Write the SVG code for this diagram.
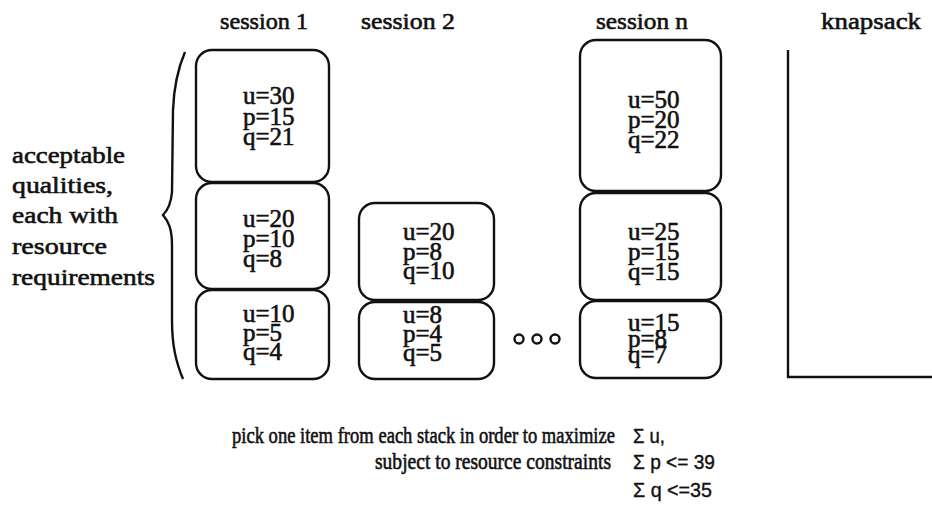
<svg xmlns="http://www.w3.org/2000/svg" width="932" height="524" viewBox="0 0 932 524">
<style>
.t{font-family:"Liberation Serif","Times New Roman",serif;font-size:24px;fill:#111;stroke:#111;stroke-width:0.6}
.h{font-family:"Liberation Serif","Times New Roman",serif;font-size:24px;fill:#111;stroke:#111;stroke-width:0.6;text-anchor:middle}
.v{font-family:"Liberation Serif","Times New Roman",serif;font-size:25px;fill:#111;stroke:#111;stroke-width:0.6}
.c{font-family:"Liberation Serif","Times New Roman",serif;font-size:23px;fill:#111;stroke:#111;stroke-width:0.6;text-anchor:end}
.s{font-family:"Liberation Sans",Arial,sans-serif;font-size:21px;fill:#111;stroke:#111;stroke-width:0.4}
.b{fill:#fff;stroke:#111;stroke-width:2.4}
.l{fill:none;stroke:#111;stroke-width:2.4}
</style>
<rect width="932" height="524" fill="#fff"/>
<g id="headings">
<text class="h" x="264" y="29" textLength="88" lengthAdjust="spacingAndGlyphs">session 1</text>
<text class="h" x="408" y="29" textLength="94" lengthAdjust="spacingAndGlyphs">session 2</text>
<text class="h" x="642" y="29" textLength="92" lengthAdjust="spacingAndGlyphs">session n</text>
<text class="h" x="871" y="29" textLength="100" lengthAdjust="spacingAndGlyphs">knapsack</text>
</g>
<g id="legend">
<text class="t" x="12" y="163" textLength="113" lengthAdjust="spacingAndGlyphs">acceptable</text>
<text class="t" x="12" y="193" textLength="101" lengthAdjust="spacingAndGlyphs">qualities,</text>
<text class="t" x="12" y="223" textLength="106" lengthAdjust="spacingAndGlyphs">each with</text>
<text class="t" x="12" y="254" textLength="95" lengthAdjust="spacingAndGlyphs">resource</text>
<text class="t" x="12" y="285" textLength="143" lengthAdjust="spacingAndGlyphs">requirements</text>
<path class="l" d="M185,52 C179,66 174,84 173,110 L172,192 C171,204 168,210 163,215 C168,221 172,228 172,245 L172,320 C172,346 176,362 183,379"/>
</g>
<g id="s1a"><rect class="b" x="196" y="50" width="133" height="132" rx="16"/>
<text class="v" x="243" y="104">u=30</text><text class="v" x="243" y="125">p=15</text><text class="v" x="243" y="145">q=21</text></g>
<g id="s1b"><rect class="b" x="196" y="183" width="133" height="106" rx="16"/>
<text class="v" x="243" y="227">u=20</text><text class="v" x="243" y="247">p=10</text><text class="v" x="243" y="267">q=8</text></g>
<g id="s1c"><rect class="b" x="196" y="290" width="133" height="89" rx="16"/>
<text class="v" x="243" y="322">u=10</text><text class="v" x="243" y="341">p=5</text><text class="v" x="243" y="360">q=4</text></g>
<g id="s2b"><rect class="b" x="359" y="203" width="135" height="97" rx="16"/>
<text class="v" x="403" y="240">u=20</text><text class="v" x="403" y="260">p=8</text><text class="v" x="403" y="279">q=10</text></g>
<g id="s2c"><rect class="b" x="359" y="302" width="135" height="77" rx="16"/>
<text class="v" x="403" y="323">u=8</text><text class="v" x="403" y="342">p=4</text><text class="v" x="403" y="361">q=5</text></g>
<g id="dots"><circle class="l" cx="519" cy="339" r="4.5" stroke-width="3"/><circle class="l" cx="537" cy="339" r="4.5" stroke-width="3"/><circle class="l" cx="555" cy="339" r="4.5" stroke-width="3"/></g>
<g id="sna"><rect class="b" x="580" y="40" width="141" height="151" rx="16"/>
<text class="v" x="628" y="108">u=50</text><text class="v" x="628" y="128">p=20</text><text class="v" x="628" y="148">q=22</text></g>
<g id="snb"><rect class="b" x="580" y="193" width="141" height="107" rx="16"/>
<text class="v" x="628" y="240">u=25</text><text class="v" x="628" y="260">p=15</text><text class="v" x="628" y="280">q=15</text></g>
<g id="snc"><rect class="b" x="580" y="301" width="141" height="77" rx="16"/>
<text class="v" x="628" y="331">u=15</text><text class="v" x="628" y="347">p=8</text><text class="v" x="628" y="363">q=7</text></g>
<g id="knapsack"><path class="l" d="M788,50 L788,377 L932,377"/></g>
<g id="caption">
<text class="c" x="615" y="443" textLength="383" lengthAdjust="spacingAndGlyphs">pick one item from each stack in order to maximize</text>
<text class="c" x="611" y="469" textLength="236" lengthAdjust="spacingAndGlyphs">subject to resource constraints</text>
<text class="s" x="633" y="443" textLength="32" lengthAdjust="spacingAndGlyphs">Σ u,</text>
<text class="s" x="633" y="469" textLength="82" lengthAdjust="spacingAndGlyphs">Σ p &lt;= 39</text>
<text class="s" x="633" y="497" textLength="79" lengthAdjust="spacingAndGlyphs">Σ q &lt;=35</text>
</g>
</svg>
